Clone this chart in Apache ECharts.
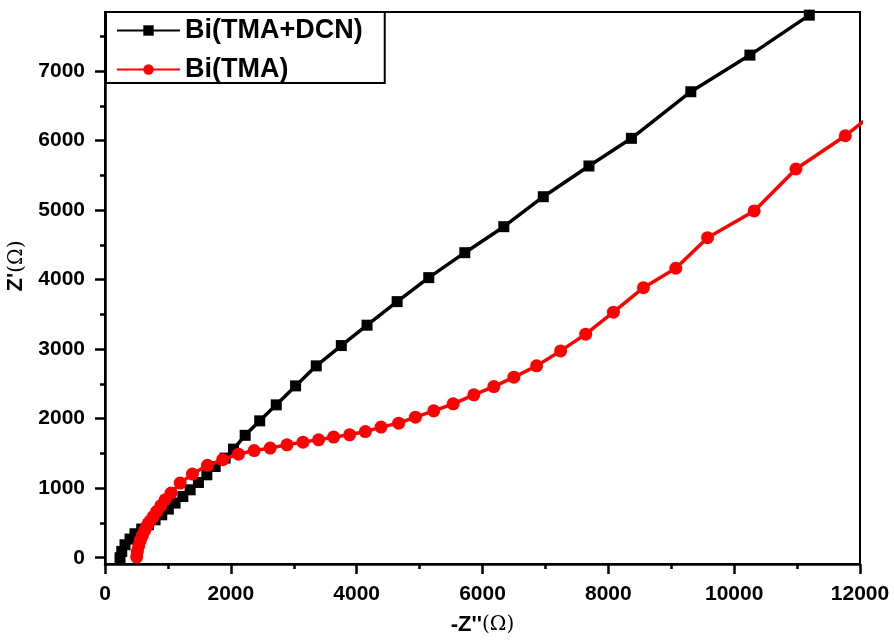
<!DOCTYPE html>
<html>
<head>
<meta charset="utf-8">
<script src="https://cdn.jsdelivr.net/npm/echarts@6/dist/echarts.min.js"></script>
<style>
  html, body { margin: 0; padding: 0; background: #fff; }
  #chart { width: 894px; height: 641px; }
</style>
</head>
<body>
<div id="chart"></div>
<script>
const seriesNames = ['Bi(TMA+DCN)', 'Bi(TMA)']

// Bi(TMA+DCN), black squares
const dcnX = [239, 266, 318, 398, 477, 584, 689, 796, 902, 1007, 1114, 1237, 1353, 1485, 1619, 1751, 1910, 2042, 2228, 2459, 2722, 3029, 3358, 3756, 4165, 4643, 5146, 5719, 6339, 6966, 7692, 8367, 9311, 10250, 11194]
const dcnY = [0, 91, 187, 269, 345, 413, 474, 546, 618, 700, 786, 881, 977, 1082, 1193, 1312, 1433, 1562, 1761, 1969, 2199, 2472, 2760, 3052, 3345, 3684, 4029, 4388, 4762, 5193, 5635, 6033, 6703, 7230, 7805]

// Bi(TMA), red circles
const tmaX = [504, 514, 536, 562, 594, 631, 668, 716, 769, 822, 886, 955, 1050, 1194, 1390, 1629, 1870, 2122, 2371, 2626, 2892, 3147, 3395, 3634, 3888, 4138, 4388, 4668, 4934, 5225, 5534, 5862, 6180, 6499, 6860, 7242, 7640, 8081, 8558, 9072, 9577, 10318, 10982, 11767, 12500]
const tmaY = [10, 91, 172, 249, 321, 393, 460, 527, 594, 666, 747, 834, 930, 1074, 1203, 1330, 1410, 1490, 1542, 1577, 1624, 1663, 1696, 1735, 1768, 1815, 1879, 1936, 2022, 2113, 2214, 2343, 2462, 2597, 2760, 2975, 3216, 3532, 3885, 4164, 4604, 4988, 5592, 6070, 6600]

const yTickLabels = [0, 1000, 2000, 3000, 4000, 5000, 6000, 7000]
const yMinorTicks = [500, 1500, 2500, 3500, 4500, 5500, 6500, 7500]

const pairs = (xs, ys) => xs.map((x, i) => [x, ys[i]])

const chart = echarts.init(document.getElementById('chart'))
const font = 'Liberation Sans, Arial, sans-serif'
const plain = v => String(v)

chart.setOption({
  animation: false,
  backgroundColor: '#fff',
  grid: {
    left: 105, top: 12, right: 34, bottom: 77,
    outerBoundsMode: 'none',
    show: true, borderColor: '#000', borderWidth: 2
  },
  legend: {
    orient: 'vertical',
    left: 106, top: 12,
    padding: [5, 22, 0, 10],
    itemGap: 12,
    itemWidth: 63, itemHeight: 13,
    borderColor: '#000', borderWidth: 2,
    backgroundColor: '#fff',
    textStyle: { fontFamily: font, fontWeight: 'bold', fontSize: 27, color: '#000', lineHeight: 26 },
    data: seriesNames
  },
  xAxis: {
    type: 'value',
    min: 0, max: 12000, interval: 2000,
    name: '{b|-Z\'\'}{o|(Ω)}',
    nameLocation: 'middle', nameGap: 50,
    nameTextStyle: {
      rich: {
        b: { fontFamily: font, fontWeight: 'bold', fontSize: 22, color: '#000' },
        o: { fontFamily: 'DejaVu Serif, serif', fontSize: 20, color: '#000' }
      }
    },
    axisLine: { onZero: false, lineStyle: { color: '#000', width: 2.5 } },
    axisTick: { length: 10, lineStyle: { width: 2.5, color: '#000' } },
    minorTick: { show: true, splitNumber: 2, length: 5, lineStyle: { width: 2.5, color: '#000' } },
    axisLabel: { formatter: plain, fontFamily: font, fontWeight: 'bold', fontSize: 21, color: '#000', margin: 20 },
    splitLine: { show: false }
  },
  yAxis: [
    {
      type: 'value',
      min: -90, max: 7850,
      name: '{b|Z\'}{o|(Ω)}',
      nameLocation: 'middle', nameGap: 73, nameRotate: 90,
      nameTextStyle: {
        padding: [0, 0, 0, 44],
        rich: {
          b: { fontFamily: font, fontWeight: 'bold', fontSize: 22, color: '#000' },
          o: { fontFamily: 'DejaVu Serif, serif', fontSize: 20, color: '#000' }
        }
      },
      axisLine: { onZero: false, lineStyle: { color: '#000', width: 2.5 } },
      axisTick: { length: 10, customValues: yTickLabels, lineStyle: { width: 2.5, color: '#000' } },
      axisLabel: { customValues: yTickLabels, formatter: plain, fontFamily: font, fontWeight: 'bold', fontSize: 21, color: '#000', margin: 20 },
      splitLine: { show: false }
    },
    {
      type: 'value',
      position: 'left',
      min: -90, max: 7850,
      axisLine: { show: false },
      axisTick: { show: true, length: 5, customValues: yMinorTicks, lineStyle: { width: 2.5, color: '#000' } },
      axisLabel: { show: false, customValues: yMinorTicks },
      splitLine: { show: false }
    }
  ],
  series: [
    {
      name: seriesNames[0],
      type: 'line',
      data: pairs(dcnX, dcnY),
      symbol: 'rect', symbolSize: 11,
      itemStyle: { color: '#000' },
      lineStyle: { color: '#000', width: 3.5 },
      clip: true, z: 3
    },
    {
      name: seriesNames[1],
      type: 'line',
      data: pairs(tmaX, tmaY),
      symbol: 'circle', symbolSize: 13,
      itemStyle: { color: '#ff0000' },
      lineStyle: { color: '#ff0000', width: 3.5 },
      clip: true, z: 4
    }
  ]
})
</script>
</body>
</html>
